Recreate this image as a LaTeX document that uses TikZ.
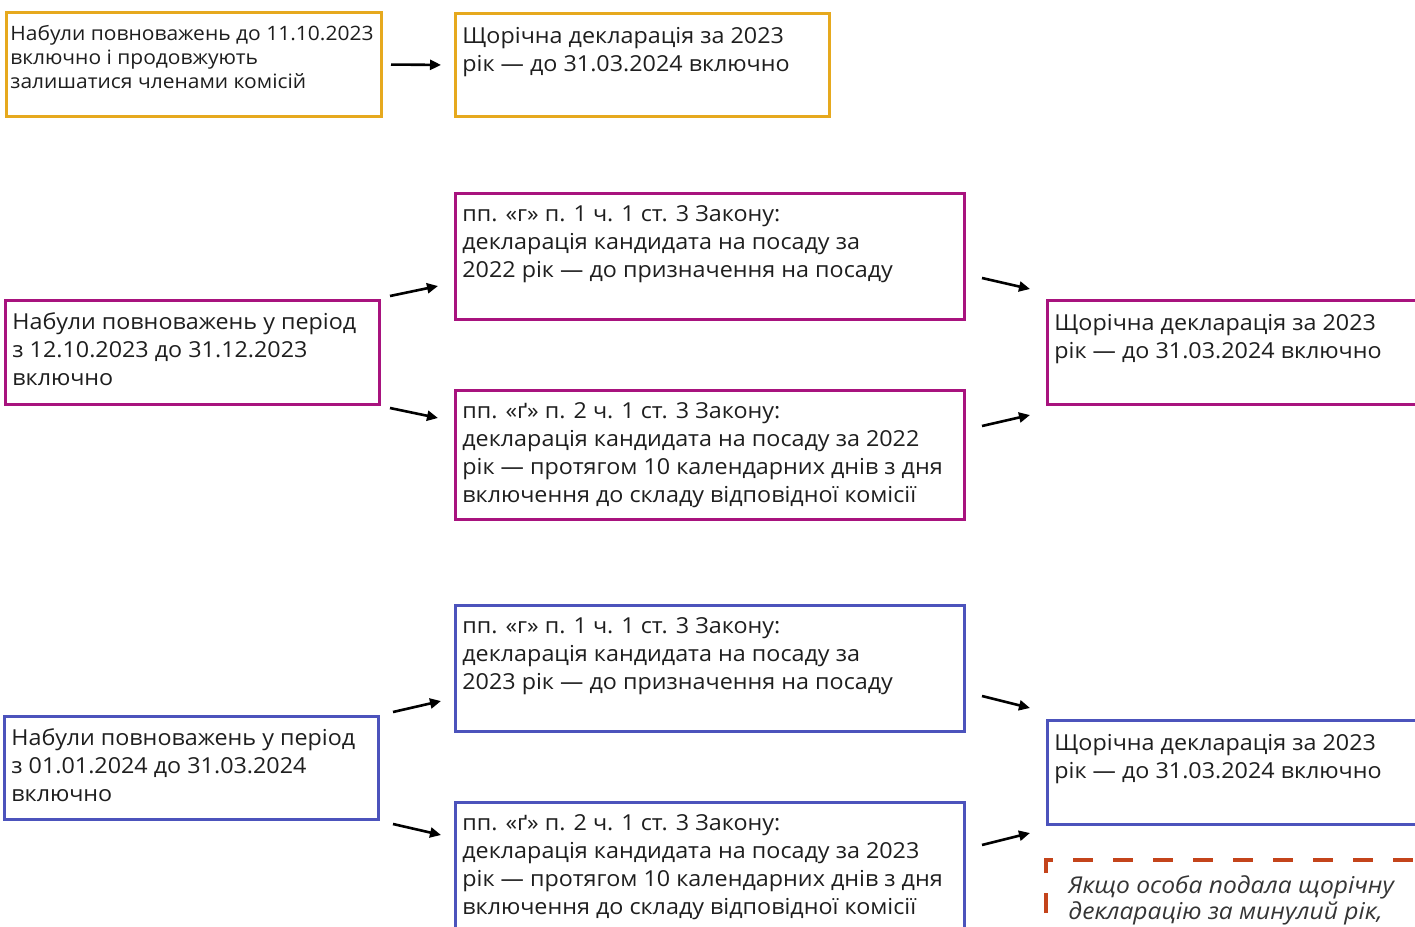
\documentclass[tikz,border=0pt]{standalone}
\usepackage{fontspec}
\setmainfont{Open Sans}[FakeStretch=1.06]
\usetikzlibrary{positioning, arrows.meta}

\definecolor{gold}{HTML}{E6A91E}
\definecolor{plum}{HTML}{A8137E}
\definecolor{indigo}{HTML}{4C53BC}
\definecolor{rust}{HTML}{C4441B}
\definecolor{ink}{HTML}{1E1E1E}

\tikzset{
	box/.style={draw, line width=1.5pt, inner sep=0pt, anchor=north west},
	txt/.style={anchor=north west, align=left, inner sep=0pt, text=ink,
		font=\fontsize{11}{14}\selectfont},
	link/.style={>={Triangle[length=5.5pt, width=5pt]}, ->, line width=1.3pt}
}

\begin{document}
\begin{tikzpicture}[x=0.5pt, y=-0.5pt]
	\useasboundingbox (0,0) rectangle (1415,927);
	\clip (0,0) rectangle (1415,927);
	% before 11.10.2023
	\node[box, draw=gold, minimum width=187.5pt, minimum height=52pt] (oldL) at (5,11) {};
	\node[txt, font=\fontsize{9.9}{12}\selectfont] (oldLt) at ([shift={(5,14)}]oldL.north west)
		{Набули повноважень до 11.10.2023\\включно і продовжують\\залишатися членами комісій};
	\node[box, draw=gold, minimum width=187pt, minimum height=51.5pt] (oldR) at (454,12) {};
	\node[txt] (oldRt) at ([shift={(8,15)}]oldR.north west)
		{Щорічна декларація за 2023\\рік — до 31.03.2024 включно};
	\draw[link, shorten <=4pt, shorten >=6.5pt] (oldL.east) -- (oldR.west);

	% 12.10.2023 -- 31.12.2023
	\node[box, draw=plum, minimum width=187pt, minimum height=52pt] (midL) at (4,299) {};
	\node[txt] (midLt) at ([shift={(8,13)}]midL.north west)
		{Набули повноважень у період\\з 12.10.2023 до 31.12.2023\\включно};
	\node[box, draw=plum, minimum width=254.5pt, minimum height=63pt] (midTop) at (454,192) {};
	\node[txt] (midTopt) at ([shift={(8,13)}]midTop.north west)
		{пп. «г» п. 1 ч. 1 ст. 3 Закону:\\декларація кандидата на посаду за\\2022 рік — до призначення на посаду};
	\node[box, draw=plum, minimum width=254.5pt, minimum height=64.5pt] (midBot) at (454,389) {};
	\node[txt] (midBott) at ([shift={(8,13)}]midBot.north west)
		{пп. «ґ» п. 2 ч. 1 ст. 3 Закону:\\декларація кандидата на посаду за 2022\\рік — протягом 10 календарних днів з дня\\включення до складу відповідної комісії};
	\node[box, draw=plum, minimum width=210pt, minimum height=52pt] (midR) at (1046,299) {};
	\node[txt] (midRt) at ([shift={(8,15)}]midR.north west)
		{Щорічна декларація за 2023\\рік — до 31.03.2024 включно};
	\draw[link] ([shift={(9,-3)}]midL.north east) -- ([shift={(-16,-35)}]midTop.south west);
	\draw[link] ([shift={(9,2)}]midL.south east) -- ([shift={(-16,29)}]midBot.north west);
	\draw[link] ([shift={(16,-43)}]midTop.south east) -- ([shift={(-16,-10)}]midR.north west);
	\draw[link] ([shift={(16,37)}]midBot.north east) -- ([shift={(-16,9)}]midR.south west);

	% 01.01.2024 -- 31.03.2024
	\node[box, draw=indigo, minimum width=187pt, minimum height=51.5pt] (newL) at (3,715) {};
	\node[txt] (newLt) at ([shift={(8,13)}]newL.north west)
		{Набули повноважень у період\\з 01.01.2024 до 31.03.2024\\включно};
	\node[box, draw=indigo, minimum width=254.5pt, minimum height=63pt] (newTop) at (454,604) {};
	\node[txt] (newTopt) at ([shift={(8,13)}]newTop.north west)
		{пп. «г» п. 1 ч. 1 ст. 3 Закону:\\декларація кандидата на посаду за\\2023 рік — до призначення на посаду};
	\node[box, draw=indigo, minimum width=254.5pt, minimum height=75pt] (newBot) at (454,801) {};
	\node[txt] (newBott) at ([shift={(8,13)}]newBot.north west)
		{пп. «ґ» п. 2 ч. 1 ст. 3 Закону:\\декларація кандидата на посаду за 2023\\рік — протягом 10 календарних днів з дня\\включення до складу відповідної комісії};
	\node[box, draw=indigo, minimum width=210pt, minimum height=52pt] (newR) at (1046,719) {};
	\node[txt] (newRt) at ([shift={(8,15)}]newR.north west)
		{Щорічна декларація за 2023\\рік — до 31.03.2024 включно};
	\draw[link] ([shift={(13,-3)}]newL.north east) -- ([shift={(-13,-32)}]newTop.south west);
	\draw[link] ([shift={(13,3)}]newL.south east) -- ([shift={(-13,34)}]newBot.north west);
	\draw[link] ([shift={(16,-37)}]newTop.south east) -- ([shift={(-16,-11)}]newR.north west);
	\draw[link] ([shift={(16,44)}]newBot.north east) -- ([shift={(-16,7)}]newR.south west);

	% note
	\node[box, draw=none, minimum width=210pt, minimum height=50pt] (note) at (1046,860) {};
	\draw[rust, line width=2pt, dash pattern=on 10pt off 10pt, dash phase=15pt]
		(note.south west) -- (note.north west) -- (note.north east) -- (note.south east);
	\node[txt, text=ink!90, font=\itshape\fontsize{11.6}{13}\selectfont] (notet)
		at ([shift={(22,15)}]note.north west)
		{Якщо особа подала щорічну\\декларацію за минулий рік,};
\end{tikzpicture}
\end{document}
